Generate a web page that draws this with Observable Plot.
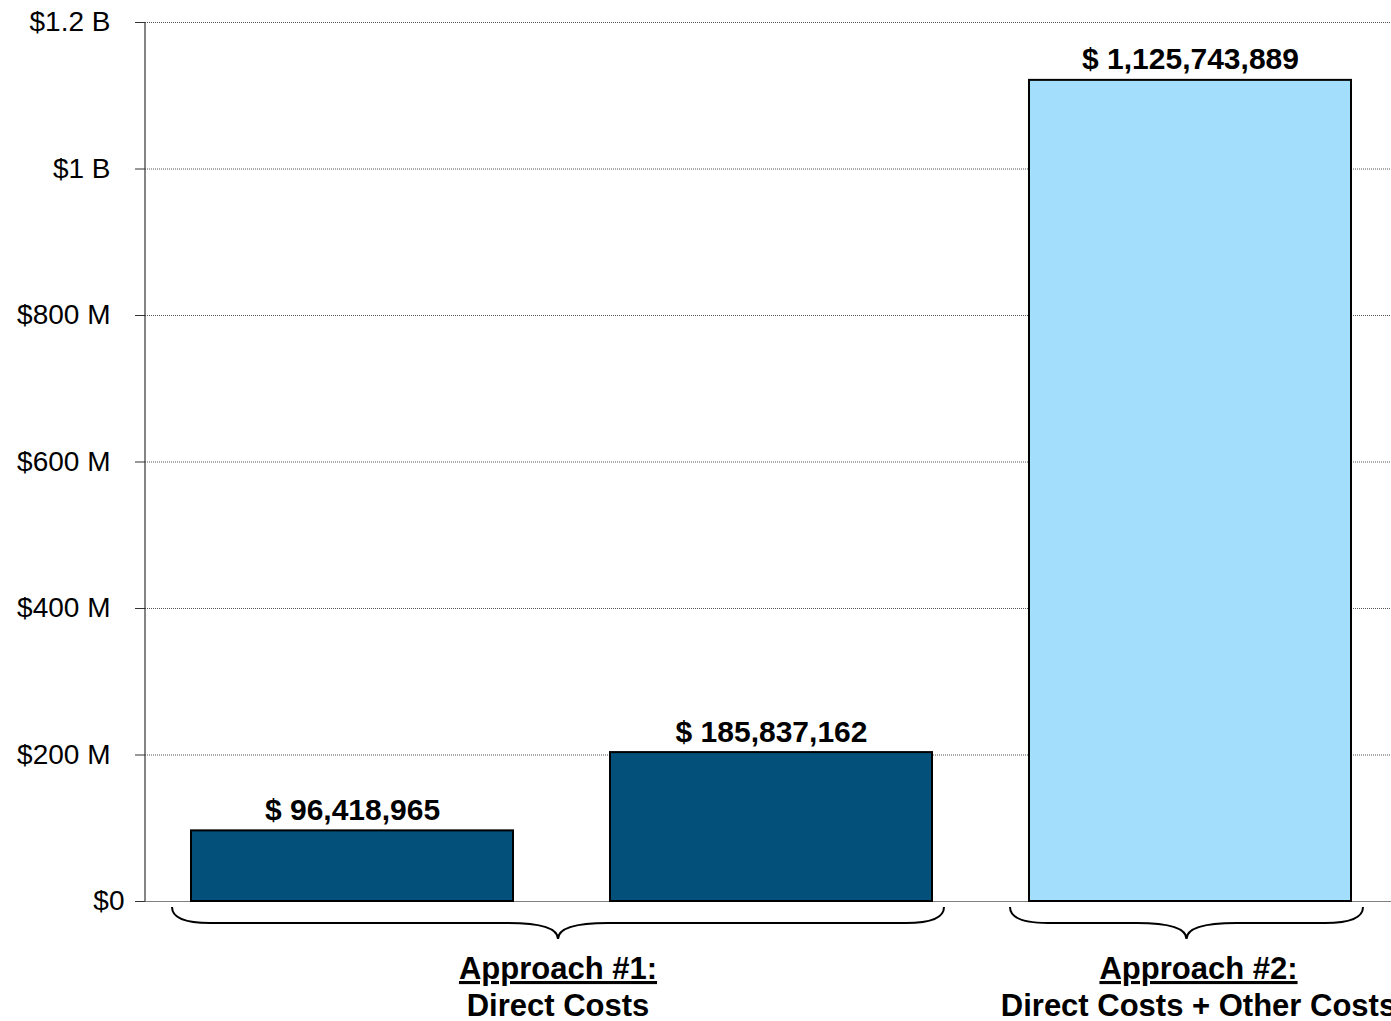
<!DOCTYPE html>
<html>
<head>
<meta charset="utf-8">
<script src="https://cdn.jsdelivr.net/npm/d3@7"></script>
<script src="https://cdn.jsdelivr.net/npm/@observablehq/plot@0.6"></script>
<style>
  html, body { margin: 0; padding: 0; background: #fff; overflow: hidden; }
  #chart svg { display: block; }
</style>
</head>
<body>
<div id="chart"></div>
<script>
// ---- Data ----
const categories = ["Direct Costs (A)", "Direct Costs (B)", "Direct + Other Costs"];
const barValues = [96418965, 203300000, 1121000000];      // bar heights as drawn
const labelValues = [96418965, 185837162, 1125743889];    // printed value labels
const barGroup = [0, 0, 1];
const groupNames = ["Approach #1:", "Approach #2:"];
const groupSubtitles = ["Direct Costs", "Direct Costs + Other Costs"];
const yTicks = [0, 200e6, 400e6, 600e6, 800e6, 1000e6, 1200e6];
const yTickLabels = ["$0", "$200 M", "$400 M", "$600 M", "$800 M", "$1 B", "$1.2 B"];

const data = categories.map((c, i) => ({
  category: c, value: barValues[i], label: labelValues[i], group: groupNames[barGroup[i]]
}));

const fmt = d3.format(",");
const FONT = "'Liberation Sans', Arial, Helvetica, sans-serif";
const tickLabel = v => yTickLabels[yTicks.indexOf(v)];

// Decorations: y axis line, group braces and group labels, computed from the scales
function decorations(index, scales, values, dimensions) {
  const x = scales.x, y = scales.y;
  const bw = typeof x.bandwidth === "function" ? x.bandwidth() : x.bandwidth;
  const y0 = y(0);
  const g = d3.create("svg:g");
  // vertical axis line
  g.append("line")
    .attr("x1", dimensions.marginLeft).attr("x2", dimensions.marginLeft)
    .attr("y1", dimensions.marginTop).attr("y2", y0)
    .attr("stroke", "#333").attr("stroke-width", 1.2);
  groupNames.forEach((name, gi) => {
    const cats = categories.filter((c, i) => barGroup[i] === gi);
    const L = x(cats[0]) - 19;
    const R = x(cats[cats.length - 1]) + bw + 12;
    const C = (L + R) / 2;
    const top = y0 + 6, mid = y0 + 22, bot = y0 + 38;
    const r1 = 38, r2 = 50;
    const path = `M${L},${top} Q${L},${mid} ${L + r1},${mid} H${C - r2} Q${C},${mid} ${C},${bot} ` +
                 `Q${C},${mid} ${C + r2},${mid} H${R - r1} Q${R},${mid} ${R},${top}`;
    g.append("path").attr("d", path).attr("fill", "none")
      .attr("stroke", "#000").attr("stroke-width", 2);
    const tx = C + (gi === groupNames.length - 1 ? 12 : 0);
    g.append("text").attr("x", tx).attr("y", y0 + 78)
      .attr("text-anchor", "middle").attr("font-family", FONT)
      .attr("font-size", 31).attr("font-weight", "bold")
      .style("text-decoration", "underline")
      .text(name);
    g.append("text").attr("x", tx).attr("y", y0 + 115)
      .attr("text-anchor", "middle").attr("font-family", FONT)
      .attr("font-size", 31).attr("font-weight", "bold")
      .text(groupSubtitles[gi]);
  });
  return g.node();
}

const chart = Plot.plot({
  width: 1391,
  height: 1021,
  marginTop: 22,
  marginBottom: 120,
  marginLeft: 145,
  marginRight: 0,
  style: { fontFamily: FONT, background: "#fff", color: "#000", overflow: "visible" },
  x: { domain: categories, range: [190, 1352], paddingInner: 0.232, paddingOuter: 0, axis: null },
  y: { domain: [0, 1200e6], axis: null, label: null },
  color: { domain: groupNames, range: ["#03507A", "#A4DEFD"] },
  marks: [
    Plot.gridY(yTicks.filter(d => d > 0), { stroke: "#555", strokeOpacity: 1, strokeDasharray: "1,1", strokeWidth: 1 }),
    Plot.ruleY([0], { stroke: "#808080", strokeWidth: 1.2 }),
    Plot.axisY(yTicks.filter(d => d > 0), {
      label: null, tickSize: 10, tickPadding: 25, tickFormat: tickLabel, fontSize: 28, stroke: "#333", fill: "#000"
    }),
    Plot.axisY([0], {
      label: null, tickSize: 10, tickPadding: 11, tickFormat: tickLabel, fontSize: 28, stroke: "#333", fill: "#000"
    }),
    Plot.barY(data, { x: "category", y: "value", fill: "group", stroke: "#000", strokeWidth: 2 }),
    Plot.text(data, {
      x: "category", y: "value", text: d => "$ " + fmt(d.label),
      dy: -11, lineAnchor: "bottom", fontSize: 30, fontWeight: "bold", fill: "#000"
    }),
    decorations
  ]
});

document.getElementById("chart").appendChild(chart);
</script>
</body>
</html>
